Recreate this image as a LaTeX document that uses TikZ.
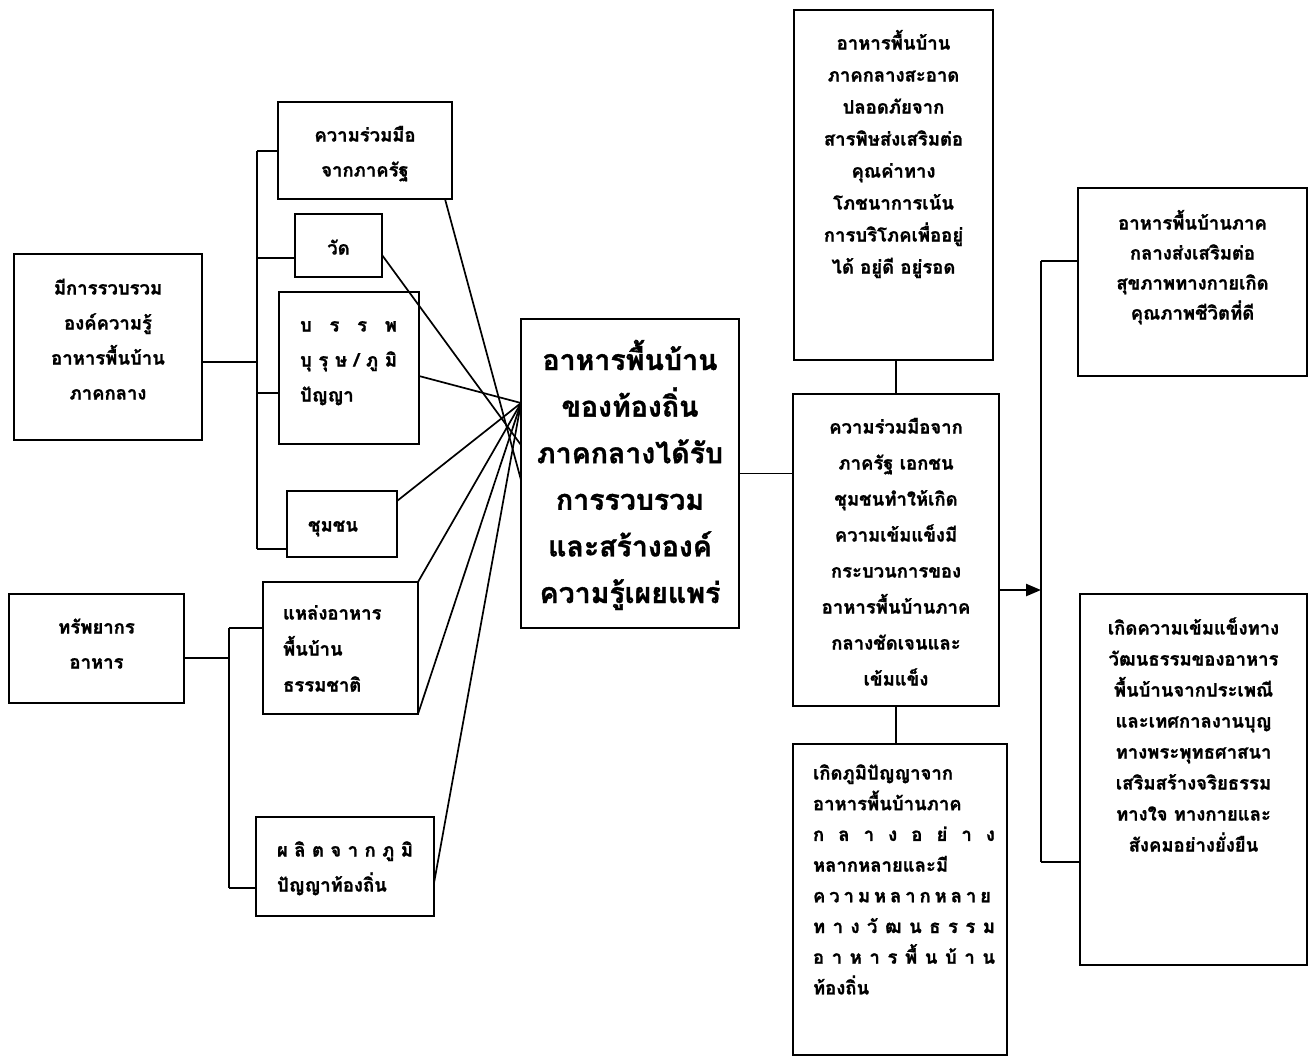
\documentclass[tikz,border=0pt]{standalone}
\usepackage{fontspec}
\newfontfamily\thaifont[Script=Thai,BoldFeatures={FakeBold=1.2}]{Loma}
\usetikzlibrary{arrows.meta,calc}
% box content: height, width, top padding, text
\newcommand{\boxtext}[4]{\parbox[c][#1][t]{#2}{\vspace*{#3}#4}}
\newcommand{\spreadline}[2]{\makebox[#1][s]{#2}}
\newcommand{\leftpad}[1]{\raggedright\leftskip=#1\relax}
\tikzset{
  box/.style={draw, line width=1.9pt, inner sep=0pt, outer sep=0pt, rectangle},
  link/.style={line width=1.7pt},
  every node/.style={font=\thaifont\bfseries},
}
\begin{document}
\begin{tikzpicture}[x=1pt,y=-1pt]
\useasboundingbox (0,0) rectangle (1314,1057);

% ---- left column: knowledge sources ----
\node[box] (a) at (108,347) {\boxtext{186pt}{188pt}{16pt}{\fontsize{18.5}{35}\selectfont\centering\strut มีการรวบรวม\\องค์ความรู้\\อาหารพื้นบ้าน\\ภาคกลาง\par}};
\node[box] (gov) at (365,150.5) {\boxtext{97pt}{174pt}{15pt}{\fontsize{18.5}{35}\selectfont\centering\strut ความร่วมมือ\\จากภาครัฐ\par}};
\node[box] (wat) at (338.5,245.5) {\boxtext{63pt}{87pt}{16pt}{\fontsize{18.5}{35}\selectfont\centering\strut วัด\par}};
\node[box] (anc) at (349,368) {\boxtext{152pt}{140pt}{15pt}{\fontsize{18.5}{35}\selectfont\leftpad{21pt}\strut\spreadline{97pt}{บ\hfill ร\hfill ร\hfill พ}\\\spreadline{97pt}{บุ\hfill รุ\hfill ษ\hfill /\hfill ภู\hfill มิ}\\ปัญญา\par}};
\node[box] (com) at (342,524) {\boxtext{66pt}{110pt}{16pt}{\fontsize{18.5}{35}\selectfont\leftpad{21pt}\strut ชุมชน\par}};

\node[box] (res) at (96.5,648.5) {\boxtext{109pt}{175pt}{15pt}{\fontsize{18.5}{35}\selectfont\centering\strut ทรัพยากร\\อาหาร\par}};
\node[box] (nat) at (340.5,648) {\boxtext{132pt}{155pt}{12.3pt}{\fontsize{18.5}{36}\selectfont\leftpad{20pt}\strut แหล่งอาหาร\\พื้นบ้าน\\ธรรมชาติ\par}};
\node[box] (loc) at (345,866.5) {\boxtext{99pt}{178pt}{15pt}{\fontsize{18.5}{35}\selectfont\leftpad{21pt}\strut\spreadline{136pt}{ผ\hfill ลิ\hfill ต\hfill จ\hfill า\hfill ก\hfill ภู\hfill มิ}\\ปัญญาท้องถิ่น\par}};

% ---- centre ----
\node[box] (core) at (630,473.5) {\boxtext{309pt}{218pt}{18.4pt}{\fontsize{28.5}{46.6}\selectfont\centering\strut อาหารพื้นบ้าน\\ของท้องถิ่น\\ภาคกลางได้รับ\\การรวบรวม\\และสร้างองค์\\ความรู้เผยแพร่\par}};

% ---- middle column ----
\node[box] (clean) at (893.5,185) {\boxtext{350pt}{199pt}{17.1pt}{\fontsize{18.5}{32}\selectfont\centering\strut อาหารพื้นบ้าน\\ภาคกลางสะอาด\\ปลอดภัยจาก\\สารพิษส่งเสริมต่อ\\คุณค่าทาง\\โภชนาการเน้น\\การบริโภคเพื่ออยู่\\ได้ อยู่ดี อยู่รอด\par}};
\node[box] (coop) at (896,550) {\boxtext{312pt}{206pt}{14.3pt}{\fontsize{18.5}{36}\selectfont\centering\strut ความร่วมมือจาก\\ภาครัฐ เอกชน\\ชุมชนทำให้เกิด\\ความเข้มแข็งมี\\กระบวนการของ\\อาหารพื้นบ้านภาค\\กลางชัดเจนและ\\เข้มแข็ง\par}};
\node[box] (wis) at (900,899.5) {\boxtext{311pt}{214pt}{14pt}{\fontsize{18.5}{30.7}\selectfont\leftpad{20pt}\strut เกิดภูมิปัญญาจาก\\อาหารพื้นบ้านภาค\\\spreadline{182pt}{ก\hfill ล\hfill า\hfill ง\hfill อ\hfill ย่\hfill า\hfill ง}\\หลากหลายและมี\\\spreadline{178pt}{ค\hfill ว\hfill า\hfill ม\hfill ห\hfill ล\hfill า\hfill ก\hfill ห\hfill ล\hfill า\hfill ย}\\\spreadline{182pt}{ท\hfill า\hfill ง\hfill วั\hfill ฒ\hfill น\hfill ธ\hfill ร\hfill ร\hfill ม}\\\spreadline{182pt}{อ\hfill า\hfill ห\hfill า\hfill ร\hfill พื้\hfill น\hfill บ้\hfill า\hfill น}\\ท้องถิ่น\par}};

% ---- right column: outcomes ----
\node[box] (health) at (1192.5,282) {\boxtext{188pt}{229pt}{20.5pt}{\fontsize{18.5}{30}\selectfont\centering\strut อาหารพื้นบ้านภาค\\กลางส่งเสริมต่อ\\สุขภาพทางกายเกิด\\คุณภาพชีวิตที่ดี\par}};
\node[box] (cult) at (1193.5,779.5) {\boxtext{371pt}{227pt}{18.8pt}{\fontsize{18.5}{31}\selectfont\centering\strut เกิดความเข้มแข็งทาง\\วัฒนธรรมของอาหาร\\พื้นบ้านจากประเพณี\\และเทศกาลงานบุญ\\ทางพระพุทธศาสนา\\เสริมสร้างจริยธรรม\\ทางใจ ทางกายและ\\สังคมอย่างยั่งยืน\par}};

% ---- bracket joining the first group ----
\coordinate (s1top) at (257,151);
\coordinate (s1wat) at (257,258);
\coordinate (s1a) at (257,362);
\coordinate (s1anc) at (257,393);
\coordinate (s1bot) at (257,549);
\draw[link] (s1top) -- (s1bot);
\draw[link] (gov.west |- s1top) -- (s1top);
\draw[link] (wat.west |- s1wat) -- (s1wat);
\draw[link] (anc.west |- s1anc) -- (s1anc);
\draw[link] (com.west |- s1bot) -- (s1bot);
\draw[link] (a.east |- s1a) -- (s1a);

% ---- bracket joining the second group ----
\coordinate (s2top) at (229,628);
\coordinate (s2res) at (229,658);
\coordinate (s2bot) at (229,888);
\draw[link] (s2top) -- (s2bot);
\draw[link] (res.east |- s2res) -- (s2res);
\draw[link] (nat.west |- s2top) -- (s2top);
\draw[link] (loc.west |- s2bot) -- (s2bot);

% ---- fan of links into the centre ----
\coordinate (hub) at (521,403);
\coordinate (hubgov) at (521,480);
\coordinate (hubwat) at (521,445);
\draw[link] ($(gov.south east)+(-7,0)$) -- (hubgov);
\draw[link] ($(wat.east)+(0,9.5)$) -- (hubwat);
\draw[link] ($(anc.east)+(0,8)$) -- (hub);
\draw[link] ($(com.north east)+(0,10)$) -- (hub);
\draw[link] (nat.north east) -- (hub);
\draw[link] (nat.south east) -- (hub);
\draw[link] ($(loc.east)+(0,16.5)$) -- (hub);

% ---- centre to middle column ----
\draw[link] (core.east) -- (core.east -| coop.west);
\draw[link] (coop.north |- clean.south) -- (coop.north);
\draw[link] (coop.south) -- (coop.south |- wis.north);

% ---- middle column to outcomes ----
\coordinate (s3top) at (1041,261);
\coordinate (s3arr) at (1041,590);
\coordinate (s3bot) at (1041,862);
\draw[link] (s3top) -- (s3bot);
\draw[link] (s3top) -- (health.west |- s3top);
\draw[link] (s3bot) -- (cult.west |- s3bot);
\draw[line width=2.4pt, -{Triangle[length=15pt,width=12pt]}] (coop.east |- s3arr) -- (s3arr);
\end{tikzpicture}
\end{document}
